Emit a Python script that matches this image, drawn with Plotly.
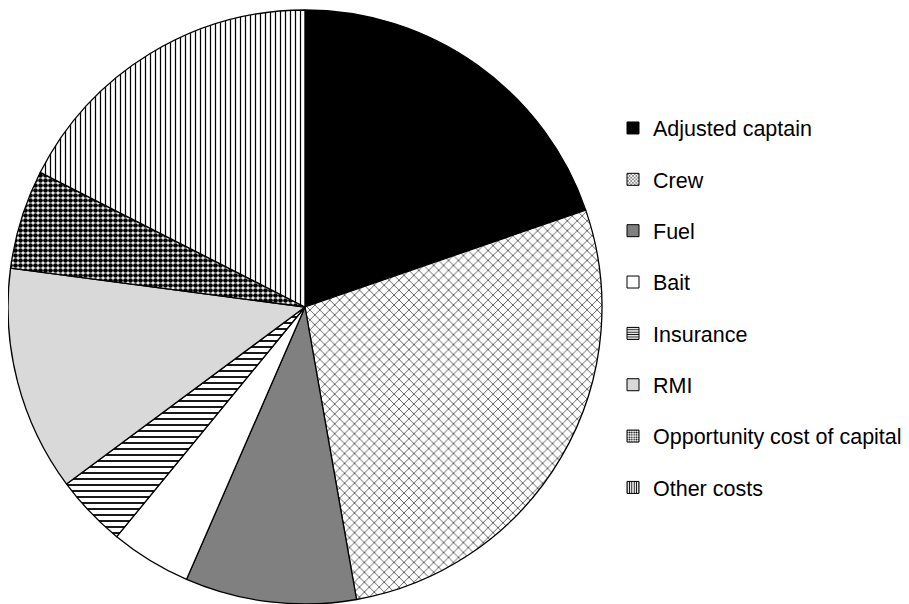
import plotly.graph_objects as go

categories = ["Adjusted captain", "Crew", "Fuel", "Bait", "Insurance", "RMI",
              "Opportunity cost of capital", "Other costs"]
shares = [19.7, 27.5, 9.3, 4.4, 3.9, 12.25, 5.4, 17.5]

colors = ["#000000", "#ffffff", "#808080", "#ffffff", "#ffffff", "#d9d9d9", "#ffffff", "#ffffff"]
pat_shapes = ["", "x", "", "", "-", "", ".", "|"]
pat_fg = ["#000000", "#444444", "#000000", "#000000", "#000000", "#000000", "#000000", "#000000"]
pat_size = [8, 7, 8, 8, 6, 8, 5, 5]
pat_sol = [0.3, 0.22, 0.3, 0.3, 0.3, 0.3, 0.7, 0.25]

W, H = 909, 604
off = 8  # page body margin
cx, cy, r = 305 - off, 307 - off, 297

fig = go.Figure()
fig.add_trace(go.Pie(
    labels=categories, values=shares, sort=False, direction="clockwise", rotation=0,
    textinfo="none", hoverinfo="label+percent", showlegend=False,
    domain=dict(x=[(cx - r) / W, (cx + r) / W], y=[(H - cy - r) / H, (H - cy + r) / H]),
    marker=dict(colors=colors, line=dict(color="#000000", width=1.3),
                pattern=dict(shape=pat_shapes, fgcolor=pat_fg, bgcolor=colors,
                             size=pat_size, solidity=pat_sol, fillmode="replace")),
))

for i, name in enumerate(categories):
    fig.add_trace(go.Bar(
        x=[None], y=[None], name=name, legendgroup=str(i), showlegend=True,
        marker=dict(color=colors[i], line=dict(color="#000000", width=1),
                    pattern=dict(shape=pat_shapes[i], fgcolor=pat_fg[i], bgcolor=colors[i],
                                 size=3, solidity=0.4, fillmode="replace")),
    ))

fig.update_layout(
    width=W, height=H, margin=dict(l=0, r=0, t=0, b=0),
    paper_bgcolor="white", plot_bgcolor="white",
    xaxis=dict(visible=False), yaxis=dict(visible=False),
    legend=dict(x=(613 - off) / W, xanchor="left", y=1 - (308 - off) / H, yanchor="middle",
                font=dict(family="Liberation Sans, Arial", size=21.5, color="#000000"),
                tracegroupgap=20.4, bgcolor="rgba(0,0,0,0)", itemclick=False),
    showlegend=True,
)

fig.write_html("out.html")
